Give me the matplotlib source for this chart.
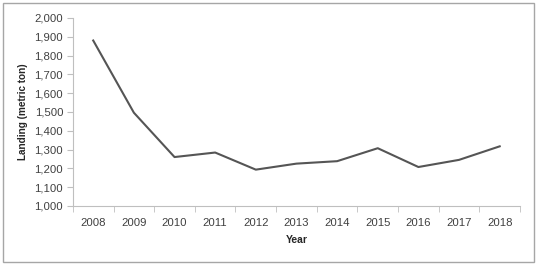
import matplotlib.pyplot as plt
import numpy as np
from matplotlib.patches import Rectangle
from matplotlib.ticker import FuncFormatter

years = ['2008', '2009', '2010', '2011', '2012', '2013',
         '2014', '2015', '2016', '2017', '2018']
landing = [1880, 1496, 1260, 1284, 1193, 1225, 1238, 1307, 1207, 1245, 1317]
yticks = np.arange(1000, 2001, 100)

plt.rcParams['font.family'] = ['Liberation Sans', 'DejaVu Sans']

fig = plt.figure(figsize=(5.4, 2.64), dpi=100)
ax = fig.add_axes([0.135, 0.22, 0.828, 0.712])

x = np.arange(len(years))
ax.plot(x, landing, color='#555555', linewidth=1.5)

ax.set_xlim(-0.5, len(years) - 0.5)
ax.set_ylim(1000, 2000)
ax.set_xticks(x)
ax.set_xticklabels(years)
ax.set_xticks(np.arange(-0.5, len(years)), minor=True)
ax.tick_params(axis='x', which='major', length=0, pad=9, labelsize=8.2, colors='#404040')
ax.tick_params(axis='x', which='minor', length=4, direction='out', color='#bfbfbf')
ax.set_yticks(yticks)
ax.yaxis.set_major_formatter(FuncFormatter(lambda v, p: f'{int(v):,}'))
ax.tick_params(axis='y', length=4, direction='out', color='#bfbfbf', labelsize=8.2,
               labelcolor='#404040', pad=3)

for s in ['top', 'right']:
    ax.spines[s].set_visible(False)
for s in ['left', 'bottom']:
    ax.spines[s].set_color('#bfbfbf')
    ax.spines[s].set_linewidth(0.8)

ax.set_xlabel('Year', fontsize=7.5, fontweight='bold', color='#262626', labelpad=5)
ax.set_ylabel('Landing (metric ton)', fontsize=7.2, fontweight='bold', color='#262626', labelpad=5)

fig.patches.append(Rectangle((0.006, 0.008), 0.982, 0.98, transform=fig.transFigure,
                             fill=False, edgecolor='#a6a6a6', linewidth=1.0))

fig.savefig('out.png', dpi=100)
